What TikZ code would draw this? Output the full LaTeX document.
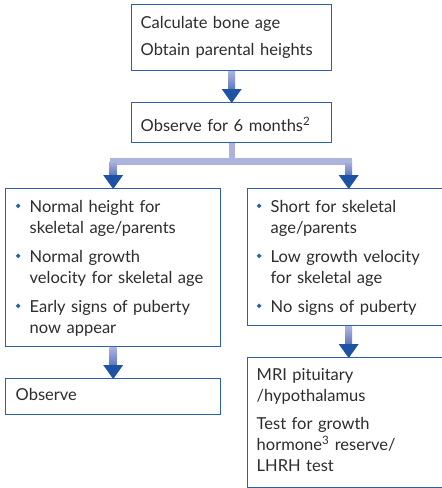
\documentclass[tikz,border=0pt]{standalone}
\usepackage{fontspec}
\setmainfont{Lato}
\usetikzlibrary{calc}

\definecolor{boxblue}{RGB}{45,95,175}
\definecolor{headblue}{RGB}{30,82,165}
\definecolor{lav}{RGB}{172,180,222}
\definecolor{midblue}{RGB}{95,120,195}
\definecolor{txt}{RGB}{45,45,45}

\newcommand{\bul}{\textcolor{boxblue}{\raisebox{4.4pt}{\rotatebox{45}{\rule{3.4pt}{3.4pt}}}}}
\newcommand{\itm}{\makebox[14pt][l]{\bul}}
\newcommand{\ind}{\hspace*{14pt}}

% shaded shaft plus solid head, from #1 down to #2
\newcommand{\flowarrow}[2]{%
  \shade[top color=lav, bottom color=midblue]
    ($(#1)+(-3.5,0)$) rectangle ($(#2)+(3.5,-13)$);
  \fill[headblue] ($(#2)+(-10,-13)$) -- ($(#2)+(10,-13)$) -- ($(#2)+(0,1)$) -- cycle;}

\tikzset{
  box/.style={draw=boxblue, line width=1.4pt, anchor=north west, inner ysep=0pt,
    align=left, text=txt, font=\fontsize{16.5}{21}\selectfont},
}

\begin{document}
\begin{tikzpicture}[x=1pt,y=-1pt]
  \clip (0,0) rectangle (442,488);
  \fill[white] (0,0) rectangle (442,488);

  \node[box, inner xsep=9pt, text width=182pt, text height=24pt, text depth=42pt]
    (calc) at (131,4) {Calculate bone age\\[6pt]Obtain parental heights};
  \node[box, inner xsep=9pt, text width=182pt, text height=29pt, text depth=11pt]
    (obs) at (131,102) {Observe for 6 months\textsuperscript{2}};
  \node[box, inner xsep=10pt, text width=195pt, text height=24pt, text depth=134pt]
    (left) at (5,188) {\itm Normal height for\\\ind skeletal age/parents\\[8pt]
      \itm Normal growth\\\ind velocity for skeletal age\\[8pt]
      \itm Early signs of puberty\\\ind now appear};
  \node[box, inner xsep=9pt, text width=184pt, text height=24pt, text depth=113pt]
    (right) at (247,188) {\itm Short for skeletal\\\ind age/parents\\[8pt]
      \itm Low growth velocity\\\ind for skeletal age\\[8pt]
      \itm No signs of puberty};
  \node[box, inner xsep=10pt, text width=195pt, text height=22pt, text depth=14pt]
    (watch) at (5,378) {Observe};
  \node[box, inner xsep=9pt, text width=184pt, text height=23pt, text depth=107pt]
    (mri) at (247,357) {MRI pituitary\\/hypothalamus\\[7pt]Test for growth\\hormone\textsuperscript{3} reserve/\\LHRH test};

  % split below the observation box
  \coordinate (bar) at ($(obs.south)+(0,18)$);
  \coordinate (barL) at (bar -| left.north);
  \coordinate (barR) at (bar -| right.north);
  \fill[lav] ($(obs.south)+(-3,0)$) rectangle ($(bar)+(3,0)$);
  \fill[lav] ($(barL)+(-3.5,-3.5)$) rectangle ($(barR)+(3.5,3.5)$);

  \flowarrow{calc.south}{obs.north}
  \flowarrow{barL}{left.north}
  \flowarrow{barR}{right.north}
  \flowarrow{left.south}{watch.north}
  \flowarrow{right.south}{mri.north}
\end{tikzpicture}
\end{document}
